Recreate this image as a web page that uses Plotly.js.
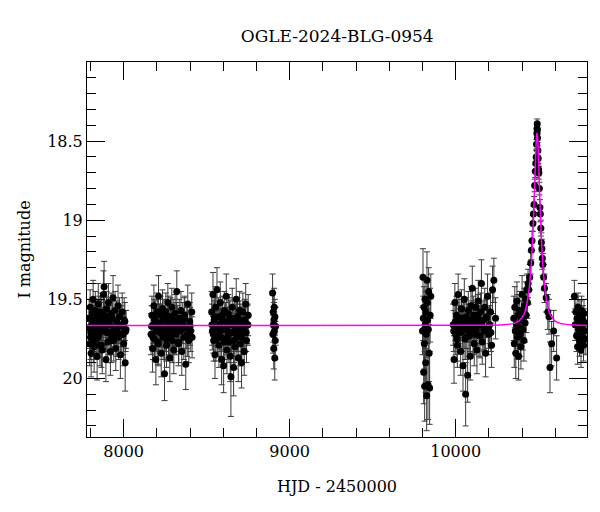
<!DOCTYPE html>
<html>
<head>
<meta charset="utf-8">
<script src="https://cdn.plot.ly/plotly-3.0.1.min.js"></script>
<style>html,body{margin:0;padding:0;background:#fff;}#chart{width:600px;height:512px;}</style>
</head>
<body>
<div id="chart"></div>
<script>
// Season 1
const hjd1 = [7792,7795,7798,7801,7804,7807,7810,7813,7816,7819,7822,7826,7829,7833,7836,7840,7843,7847,7850,7854,7857,7861,7864,7868,7871,7875,7878,7882,7886,7889,7893,7897,7900,7904,7908,7912,7916,7920,7924,7928,7932,7936,7940,7944,7948,7952,7957,7961,7966,7970,7975,7980,7985,7991,7997,8003,8009,8014,
  7794,7800,7808,7817,7824,7831,7845,7852,7866,7880,7895,7910,7926,7942,7958,7972,7988,8000,8007,8012];
const mag1 = [19.62,19.78,19.55,19.71,19.84,19.66,19.59,19.73,19.50,19.69,19.80,19.63,19.57,19.75,19.68,19.86,19.61,19.53,19.72,19.65,19.79,19.58,19.70,19.62,19.82,19.67,19.47,19.42,19.60,19.69,19.88,19.56,19.64,19.77,19.52,19.71,19.66,19.83,19.59,19.73,19.62,19.49,19.76,19.68,19.57,19.81,19.64,19.70,19.54,19.74,19.61,19.85,19.67,19.58,19.72,19.63,19.90,19.69,
  19.68,19.74,19.63,19.77,19.70,19.66,19.74,19.60,19.79,19.65,19.71,19.62,19.76,19.69,19.73,19.66,19.72,19.78,19.64,19.70];
const err1 = [0.12,0.14,0.11,0.13,0.15,0.12,0.10,0.13,0.12,0.14,0.16,0.11,0.12,0.13,0.12,0.15,0.11,0.13,0.12,0.14,0.13,0.12,0.11,0.14,0.15,0.12,0.15,0.16,0.12,0.13,0.14,0.11,0.12,0.13,0.12,0.14,0.12,0.15,0.13,0.12,0.11,0.14,0.13,0.12,0.12,0.14,0.13,0.12,0.13,0.14,0.12,0.15,0.13,0.12,0.13,0.14,0.18,0.12,
  0.13,0.14,0.12,0.13,0.14,0.12,0.13,0.12,0.14,0.13,0.12,0.13,0.14,0.12,0.13,0.12,0.13,0.14,0.12,0.13];
// Season 2
const hjd2 = [8165,8170,8174,8178,8182,8186,8190,8194,8198,8202,8206,8210,8214,8218,8222,8226,8230,8234,8238,8242,8246,8250,8254,8258,8262,8266,8270,8274,8278,8282,8286,8290,8294,8298,8302,8306,8310,8315,8320,8325,8330,8335,8340,8345,8350,8356,8362,8368,8374,8380,8386,8392,8398,8404,8410,
  8168,8176,8184,8196,8208,8220,8232,8244,8256,8268,8280,8292,8304,8318,8332,8348,8365,8383,8400,8412];
const mag2 = [19.72,19.60,19.81,19.66,19.54,19.75,19.63,19.88,19.69,19.58,19.77,19.48,19.65,19.71,19.60,19.84,19.67,19.56,19.74,19.62,19.97,19.70,19.58,19.79,19.64,19.52,19.73,19.66,19.87,19.61,19.69,19.55,19.76,19.63,19.82,19.68,19.59,19.72,19.45,19.66,19.78,19.62,19.70,19.57,19.83,19.65,19.74,19.60,19.91,19.68,19.53,19.76,19.64,19.70,19.58,
  19.67,19.74,19.62,19.70,19.78,19.65,19.72,19.68,19.75,19.61,19.73,19.66,19.70,19.64,19.77,19.69,19.62,19.72,19.67,19.74];
const err2 = [0.13,0.12,0.15,0.12,0.13,0.14,0.12,0.16,0.13,0.12,0.14,0.13,0.12,0.13,0.12,0.15,0.13,0.12,0.14,0.12,0.17,0.13,0.12,0.14,0.13,0.12,0.14,0.12,0.15,0.12,0.13,0.12,0.14,0.13,0.15,0.12,0.12,0.13,0.13,0.12,0.14,0.12,0.13,0.12,0.15,0.13,0.14,0.12,0.16,0.13,0.12,0.14,0.12,0.13,0.12,
  0.13,0.14,0.12,0.13,0.14,0.12,0.13,0.12,0.14,0.13,0.12,0.13,0.14,0.12,0.13,0.12,0.13,0.14,0.12,0.13];
// Season 3
const hjd3 = [8530,8534,8538,8542,8546,8550,8554,8558,8562,8566,8570,8574,8578,8582,8586,8590,8594,8598,8602,8606,8610,8614,8618,8622,8626,8630,8634,8638,8642,8646,8650,8654,8658,8662,8666,8670,8674,8678,8682,8686,8690,8694,8698,8702,8706,8710,8714,8718,8722,8726,8730,8735,8740,8745,8750,
  8532,8540,8548,8556,8568,8580,8592,8604,8616,8628,8640,8652,8664,8676,8688,8700,8712,8724,8738,8748];
const mag3 = [19.58,19.70,19.47,19.76,19.63,19.85,19.55,19.68,19.44,19.73,19.61,19.79,19.66,19.52,19.74,19.88,19.60,19.69,19.92,19.57,19.75,19.64,19.48,19.82,19.67,19.59,19.77,19.63,19.86,19.99,19.71,19.55,19.66,19.93,19.62,19.80,19.69,19.50,19.74,19.61,19.87,19.67,19.57,19.78,19.65,19.90,19.72,19.58,19.68,19.83,19.63,19.53,19.76,19.66,19.60,
  19.66,19.72,19.61,19.75,19.68,19.70,19.64,19.77,19.69,19.73,19.62,19.71,19.76,19.65,19.70,19.63,19.74,19.68,19.71,19.66];
const err3 = [0.13,0.12,0.14,0.13,0.12,0.15,0.13,0.12,0.14,0.13,0.12,0.14,0.12,0.13,0.12,0.16,0.12,0.13,0.17,0.12,0.13,0.12,0.14,0.15,0.12,0.12,0.13,0.12,0.16,0.25,0.13,0.12,0.12,0.18,0.12,0.14,0.13,0.13,0.12,0.12,0.15,0.12,0.12,0.14,0.12,0.16,0.13,0.12,0.12,0.15,0.13,0.13,0.14,0.12,0.13,
  0.13,0.12,0.13,0.14,0.12,0.13,0.12,0.14,0.13,0.12,0.13,0.12,0.14,0.12,0.13,0.12,0.14,0.13,0.12,0.13];
// Season 4
const hjd4 = [8897,8899,8901,8902,8904,8905,8907,8908,8910,8911,8913,8915];
const mag4 = [19.46,19.72,19.58,19.66,19.81,19.63,19.55,19.70,19.87,19.61,19.76,19.67];
const err4 = [0.12,0.12,0.12,0.11,0.13,0.11,0.12,0.12,0.14,0.11,0.12,0.12];
// Season 5
const hjd5 = [9800,9803,9805,9807,9809,9811,9813,9815,9817,9819,9821,9823,9825,9827,9829,9831,9833,9835,9837,9840,9843,9846,9850];
const mag5 = [19.70,19.36,19.62,19.96,19.55,19.78,20.05,19.50,19.66,19.90,19.58,19.72,20.11,19.38,19.52,19.63,20.04,19.69,19.45,19.84,20.06,19.60,19.48];
const err5 = [0.15,0.18,0.14,0.20,0.13,0.16,0.22,0.14,0.15,0.19,0.13,0.15,0.22,0.18,0.14,0.15,0.22,0.16,0.15,0.18,0.23,0.17,0.14];
// Season 6
const hjd6 = [9985,9990,9995,10000,10005,10010,10015,10020,10025,10030,10035,10040,10044,10048,10052,10056,10060,10064,10068,10072,10076,10080,10084,10088,10092,10096,10100,10104,10108,10112,10116,10120,10124,10128,10132,10136,10140,10145,10150,10155,10160,10165,10170,10175,10180,10186,10192,10198,10204,10210,10216,10222,10230,10240,
  9988,9998,10008,10018,10028,10038,10050,10062,10074,10086,10098,10110,10122,10134,10147,10158,10172,10184,10196,10212];
const mag6 = [19.66,19.88,19.52,19.72,19.60,19.79,19.47,19.68,19.62,19.83,19.56,19.70,19.92,19.64,19.50,19.75,20.10,19.61,19.69,19.98,19.57,19.73,19.65,19.86,19.54,19.67,19.43,19.71,19.60,19.78,19.64,19.55,19.69,19.82,19.62,19.51,19.73,19.66,19.58,19.40,19.77,19.63,19.69,19.55,19.84,19.61,19.48,19.72,19.66,19.58,19.79,19.44,19.38,19.62,
  19.70,19.64,19.75,19.66,19.71,19.62,19.68,19.74,19.65,19.70,19.63,19.72,19.67,19.60,19.73,19.66,19.70,19.62,19.68,19.71];
const err6 = [0.13,0.15,0.12,0.13,0.12,0.14,0.13,0.12,0.12,0.15,0.12,0.13,0.16,0.12,0.13,0.13,0.20,0.12,0.12,0.17,0.12,0.13,0.12,0.15,0.12,0.12,0.14,0.13,0.12,0.14,0.12,0.12,0.13,0.15,0.12,0.13,0.13,0.12,0.12,0.15,0.14,0.12,0.13,0.12,0.15,0.12,0.14,0.13,0.12,0.12,0.14,0.15,0.14,0.13,
  0.13,0.12,0.14,0.12,0.13,0.12,0.13,0.14,0.12,0.13,0.12,0.13,0.12,0.13,0.14,0.12,0.13,0.12,0.13,0.12];
// Season 7 (event)
const hjd7 = [10350,10353,10356,10359,10362,10366,10369,10372,10376,10379,10383,10386,10390,10393,10397,10400,10404,10407,10411,10414,10418,10421,10425,10428,10432,10436,10440,10446,10452,10456,10460,10465,10468,10472,10476,10480,10483,10485,10487,10489,10490,10491,10492,10493,10495,10497,10499,10501,10504,10507,10510,10513,10516,10519,10522,10525,10530,10535,10545,10555,10562,10568,10578,10590,10608];
const mag7 = [19.62,19.78,19.55,19.70,19.84,19.66,19.51,19.74,19.60,19.86,19.68,19.57,19.72,19.80,19.63,19.47,19.69,19.58,19.76,19.54,19.65,19.50,19.60,19.44,19.52,19.40,19.44,19.36,19.27,19.19,19.13,19.02,18.96,18.90,18.78,18.69,18.64,18.60,18.52,18.45,18.42,18.39,18.43,18.48,18.56,18.61,18.68,18.70,18.80,18.92,18.96,19.05,19.14,19.18,19.24,19.28,19.36,19.43,19.49,19.58,19.61,19.93,19.78,19.70,19.87];
const err7 = [0.14,0.15,0.13,0.14,0.16,0.13,0.12,0.14,0.13,0.15,0.13,0.12,0.14,0.14,0.12,0.12,0.13,0.12,0.13,0.11,0.12,0.11,0.11,0.10,0.10,0.09,0.09,0.08,0.07,0.06,0.06,0.05,0.05,0.05,0.04,0.04,0.04,0.04,0.03,0.03,0.03,0.03,0.03,0.03,0.03,0.04,0.04,0.04,0.04,0.05,0.05,0.05,0.06,0.06,0.07,0.07,0.08,0.09,0.09,0.11,0.11,0.16,0.14,0.13,0.14];
// Season 8
const hjd8 = [10715,10720,10724,10728,10731,10734,10737,10740,10743,10746,10749,10752,10755,10758,10761,10764,10767,10770,10773,10776,10780,10784];
const mag8 = [19.48,19.66,19.58,19.73,19.62,19.80,19.55,19.69,19.64,19.76,19.60,19.71,19.82,19.57,19.67,19.74,19.63,19.79,19.59,19.70,19.65,19.75];
const err8 = [0.10,0.10,0.09,0.10,0.09,0.11,0.09,0.10,0.09,0.10,0.09,0.10,0.11,0.09,0.10,0.10,0.09,0.10,0.09,0.10,0.09,0.10];
// Model curve
const modelHJD = [7779,10190,10290,10350,10380,10400,10415,10430,10440,10445,10450,10455,10460,10465,10470,10472.5,10475,10477.5,10480,10482.5,10485,10487.5,10490,10492.5,10495,10497.5,10500,10502.5,10505,10507.5,10510,10515,10520,10525,10530,10535,10540,10550,10565,10580,10600,10630,10690,10791];
const modelMag = [19.665,19.664,19.661,19.652,19.637,19.615,19.586,19.522,19.455,19.410,19.352,19.281,19.194,19.086,18.956,18.883,18.805,18.724,18.644,18.568,18.506,18.463,18.448,18.463,18.506,18.568,18.644,18.724,18.805,18.883,18.956,19.086,19.194,19.281,19.352,19.410,19.455,19.522,19.586,19.615,19.637,19.652,19.661,19.665];

const hjd = [].concat(hjd1,hjd2,hjd3,hjd4,hjd5,hjd6,hjd7,hjd8);
const mag = [].concat(mag1,mag2,mag3,mag4,mag5,mag6,mag7,mag8);
const err = [].concat(err1,err2,err3,err4,err5,err6,err7,err8);

const font = 'DejaVu Serif, Liberation Serif, serif';

const traces = [
  {
    x: hjd, y: mag, type: 'scatter', mode: 'markers',
    marker: {color: '#000', size: 7},
    error_y: {type: 'data', array: err, visible: true, color: '#3a3a3a', thickness: 1, width: 3},
    hoverinfo: 'skip', showlegend: false
  },
  {
    x: modelHJD, y: modelMag, type: 'scatter', mode: 'lines',
    line: {color: '#ff00ff', width: 1.5, shape: 'spline', smoothing: 0.6},
    hoverinfo: 'skip', showlegend: false
  }
];

const axisCommon = {
  showline: true, linecolor: '#000', linewidth: 1, mirror: 'ticks',
  ticks: 'inside', tickcolor: '#000', tickwidth: 1, ticklen: 18,
  showgrid: false, zeroline: false,
  tickfont: {family: font, size: 16, color: '#000'}
};

const layout = {
  width: 600, height: 512,
  margin: {l: 87, r: 13, t: 62, b: 75},
  paper_bgcolor: '#fff', plot_bgcolor: '#fff',
  title: {text: 'OGLE-2024-BLG-0954', font: {family: font, size: 17, color: '#000'}, x: 0.562, xanchor: 'center', y: 0.93, yanchor: 'middle'},
  xaxis: Object.assign({}, axisCommon, {
    range: [7779, 10791], tickvals: [8000, 9000, 10000], ticktext: ['8000','9000','10000'],
    minor: {dtick: 200, tick0: 0, ticks: 'inside', ticklen: 9, tickcolor: '#000', tickwidth: 1, showgrid: false},
    title: {text: 'HJD - 2450000', font: {family: font, size: 16, color: '#000'}, standoff: 20}
  }),
  yaxis: Object.assign({}, axisCommon, {
    range: [20.37, 18.0], tickvals: [18.5, 19, 19.5, 20], ticktext: ['18.5','19','19.5','20'],
    minor: {dtick: 0.1, tick0: 0, ticks: 'inside', ticklen: 9, tickcolor: '#000', tickwidth: 1, showgrid: false},
    title: {text: 'I magnitude', font: {family: font, size: 16, color: '#000'}, standoff: 12}
  })
};

Plotly.newPlot('chart', traces, layout, {displayModeBar: false, staticPlot: true});
</script>
</body>
</html>
